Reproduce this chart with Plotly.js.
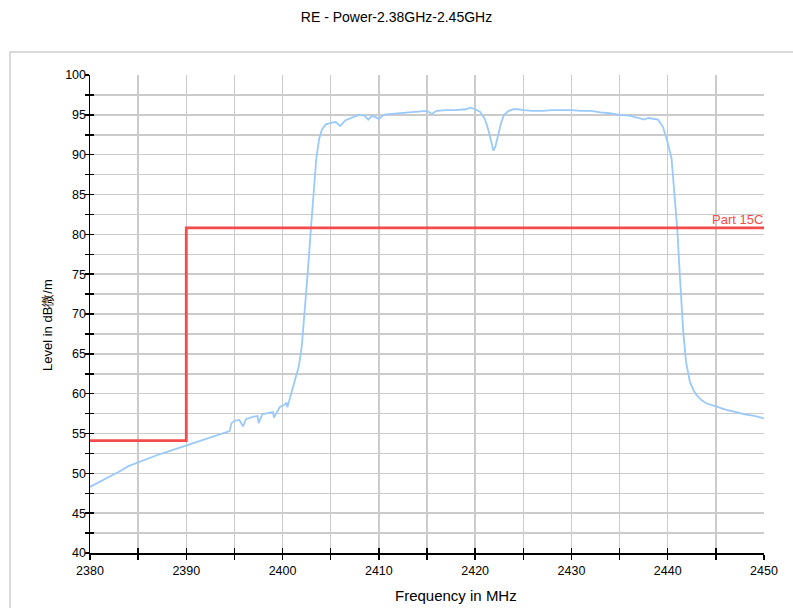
<!DOCTYPE html>
<html>
<head>
<meta charset="utf-8">
<script src="https://cdn.plot.ly/plotly-3.0.1.min.js"></script>
<style>html,body{margin:0;padding:0;background:#fff;}#chart{width:793px;height:608px;}</style>
</head>
<body>
<div id="chart"></div>
<script>
const freqMHz = [2380,2381,2382,2383,2384,2385,2386,2387,2388,2389,2390,2391,2392,2393,2394,2394.5,2394.7,2395,2395.5,2395.9,2396.2,2396.9,2397.4,2397.5,2397.9,2398.5,2399,2399.1,2399.7,2400.3,2400.4,2400.5,2400.8,2401.3,2401.7,2402.0,2402.3,2402.6,2402.9,2403.2,2403.5,2403.8,2404.1,2404.5,2405,2405.5,2406,2406.5,2407,2407.5,2408,2408.5,2408.9,2409.3,2410,2410.5,2411,2412,2413,2414,2415,2415.5,2416,2417,2418,2419,2419.5,2420,2420.5,2421,2421.4,2421.7,2421.9,2422.1,2422.4,2422.7,2423,2423.5,2424,2424.5,2425,2426,2427,2428,2429,2430,2431,2432,2433,2434,2435,2436,2437,2437.5,2438,2438.5,2439,2439.5,2440,2440.4,2440.7,2441,2441.3,2441.6,2441.9,2442.3,2442.7,2443,2443.5,2444,2445,2446,2447,2448,2449,2450];
const levelDB = [48.3,48.9,49.5,50.2,50.9,51.4,51.8,52.3,52.7,53.1,53.5,53.9,54.3,54.7,55.1,55.3,56.3,56.6,56.7,55.9,56.8,57.1,57.2,56.3,57.4,57.6,57.7,57.0,58.3,58.7,58.9,58.3,59.6,61.7,63.5,66,70,75,80,85,89.5,92,93.2,93.8,94.0,94.1,93.6,94.3,94.6,94.8,95.0,94.9,94.4,94.9,94.5,95.0,95.1,95.2,95.3,95.4,95.5,95.1,95.5,95.6,95.6,95.7,95.9,95.7,95.4,94.5,93,91.5,90.5,91,92.5,94,95,95.5,95.7,95.7,95.6,95.5,95.5,95.6,95.6,95.6,95.5,95.5,95.3,95.2,95.0,94.9,94.6,94.4,94.6,94.5,94.4,93.5,91.5,89.5,85,80.5,74,68,64,61.5,60.4,59.8,59.2,58.8,58.4,58.0,57.7,57.4,57.2,56.9];

// Limit line "Part 15C"
const limitFreq = [2380,2390,2390,2450];
const limitLevel = [54.1,54.1,80.8,80.8];
const limitName = "Part 15C";

const fnt = "Liberation Sans, Arial, sans-serif";
const traces = [
  {x: freqMHz, y: levelDB, type:'scatter', mode:'lines', line:{color:'#99cafb', width:1.8}, hoverinfo:'skip'},
  {x: limitFreq, y: limitLevel, type:'scatter', mode:'lines', line:{color:'#f44b4b', width:2.8}, xaxis:'x2', yaxis:'y2', hoverinfo:'skip'}
];
const gridC = '#cbcbcb';
const layout = {
  width:793, height:608,
  margin:{l:90, r:29, t:75, b:55},
  paper_bgcolor:'#fff', plot_bgcolor:'#fff',
  showlegend:false,
  font:{family:fnt, color:'#000', size:12.5},
  title:{text:'RE - Power-2.38GHz-2.45GHz', font:{family:fnt, size:14, color:'#000'}, x:0.5, xref:'container', y:1-17/608, yref:'container', yanchor:'middle'},
  xaxis:{range:[2380,2450], dtick:10, tick0:2380, showgrid:true, gridcolor:gridC, gridwidth:1.5,
    showline:true, linecolor:'#000', linewidth:1.5, ticks:'outside', ticklen:5, tickcolor:'#000', tickwidth:1.5,
    minor:{dtick:5, ticks:'outside', ticklen:5, tickcolor:'#000', tickwidth:1.5, showgrid:true, gridcolor:gridC, gridwidth:1.5},
    zeroline:false, tickfont:{size:12.5}},
  yaxis:{range:[40,100], dtick:5, tick0:40, showgrid:true, gridcolor:gridC, gridwidth:1.5,
    showline:true, linecolor:'#000', linewidth:1.5, ticks:'outside', ticklen:4, tickcolor:'#000', tickwidth:1.5,
    minor:{dtick:2.5, ticks:'outside', ticklen:4, tickcolor:'#000', tickwidth:1.5, showgrid:true, gridcolor:gridC, gridwidth:1.5},
    zeroline:false, showticklabels:false},
  xaxis2:{range:[2380,2450], overlaying:'x', dtick:10, tick0:2380, showgrid:false, showline:false, zeroline:false,
    ticks:'inside', ticklen:5, tickcolor:'#000', tickwidth:1.5, showticklabels:false,
    minor:{dtick:5, ticks:'inside', ticklen:5, tickcolor:'#000', tickwidth:1.5, showgrid:false}},
  yaxis2:{range:[40,100], overlaying:'y', side:'left', dtick:5, tick0:40, showgrid:false, showline:false, zeroline:false,
    ticks:'inside', ticklen:4, tickcolor:'#000', tickwidth:1.5, showticklabels:true, tickfont:{size:12.5},
    ticklabelstandoff:3,
    minor:{dtick:2.5, ticks:'inside', ticklen:4, tickcolor:'#000', tickwidth:1.5, showgrid:false}},
  annotations:[
    {x:limitFreq[3], y:limitLevel[3], xref:'x', yref:'y', text:limitName, showarrow:false,
      xanchor:'right', yanchor:'bottom', yshift:-1, xshift:1, font:{size:13, color:'#f44b4b', family:fnt}},
    {x:(456-90)/674, y:-(595-553)/478, xref:'paper', yref:'paper', text:'Frequency in MHz', showarrow:false,
      xanchor:'center', yanchor:'middle', font:{size:15, color:'#000', family:fnt}},
    {x:(47-90)/674, y:1-(325-75)/478, xref:'paper', yref:'paper', text:'Level in dB微/m', showarrow:false,
      textangle:-90, xanchor:'center', yanchor:'middle', font:{size:13, color:'#000', family:fnt}}
  ],
  shapes:[{type:'rect', xref:'paper', yref:'paper', x0:(10-90)/674, x1:1.2, y0:-0.3, y1:1+(75-52)/478,
    line:{color:'#b4b4b4', width:1}, fillcolor:'rgba(0,0,0,0)', layer:'below'}]
};
Plotly.newPlot('chart', traces, layout, {staticPlot:true, displayModeBar:false});
</script>
</body>
</html>
